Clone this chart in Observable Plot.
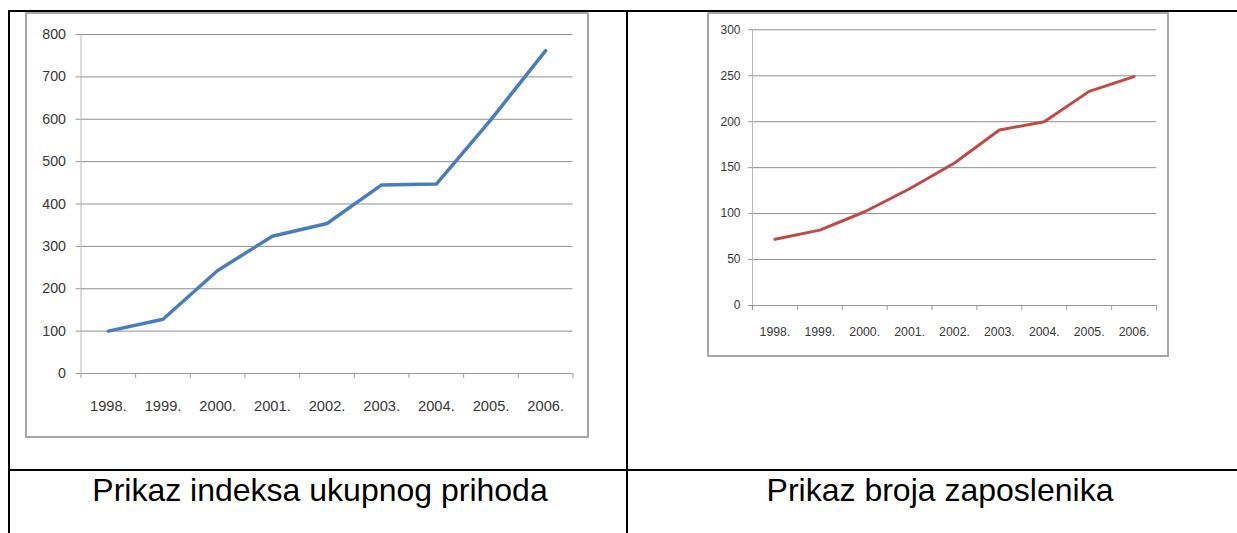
<!DOCTYPE html>
<html>
<head>
<meta charset="utf-8">
<script src="https://cdn.jsdelivr.net/npm/d3@7"></script>
<script src="https://cdn.jsdelivr.net/npm/@observablehq/plot@0.6"></script>
<style>
  html, body { margin: 0; padding: 0; background: #fff; }
  body { width: 1237px; height: 533px; position: relative; overflow: hidden; }
  .ln { position: absolute; background: #000; }
  .frame { position: absolute; box-sizing: border-box; border: 2px solid #a6a6a6; pointer-events: none; }
  .chart { position: absolute; }
  .cap { position: absolute; width: 600px; text-align: center; font-family: "Liberation Sans", Arial, sans-serif;
         font-size: 32px; line-height: 32px; color: #000; white-space: nowrap; }
</style>
</head>
<body>
<div id="c1" class="chart" style="left:25px;top:12px;"></div>
<div class="frame" style="left:25px;top:12px;width:564px;height:426px;"></div>
<div id="c2" class="chart" style="left:707px;top:12px;"></div>
<div class="frame" style="left:707px;top:12px;width:462px;height:345px;"></div>

<div class="ln" style="left:8px;top:10px;width:1229px;height:2px;"></div>
<div class="ln" style="left:8px;top:10px;width:2px;height:523px;"></div>
<div class="ln" style="left:626px;top:10px;width:2px;height:523px;"></div>
<div class="ln" style="left:8px;top:469px;width:1229px;height:2px;"></div>

<div id="cap1" class="cap" style="left:20px;top:474px;"></div>
<div id="cap2" class="cap" style="left:640px;top:474px;"></div>

<script>
// ---- data ----
const years = ["1998.", "1999.", "2000.", "2001.", "2002.", "2003.", "2004.", "2005.", "2006."];
const prihodIndex = [100, 128, 243, 324, 354, 445, 447, 599, 762];
const zaposlenici = [72, 82, 102, 127, 155, 191, 200, 233, 249];
const yTicksLeft = [0, 100, 200, 300, 400, 500, 600, 700, 800];
const yTicksRight = [0, 50, 100, 150, 200, 250, 300];
const captionLeft = "Prikaz indeksa ukupnog prihoda";
const captionRight = "Prikaz broja zaposlenika";

document.getElementById("cap1").textContent = captionLeft;
document.getElementById("cap2").textContent = captionRight;

function makeChart(values, yTicks, opts) {
  const rows = years.map((y, i) => ({i, year: y, v: values[i]}));
  const n = years.length;
  const centers = d3.range(n).map(i => i + 0.5);
  const bounds = d3.range(n + 1);
  return Plot.plot({
    width: opts.width,
    height: opts.height,
    marginLeft: opts.ml,
    marginRight: opts.mr,
    marginTop: opts.mt,
    marginBottom: opts.mb,
    style: {fontFamily: "'Liberation Sans', Arial, sans-serif", fontSize: opts.fs + "px", color: "#383838", background: "transparent"},
    x: {type: "linear", domain: [0, n], axis: null},
    y: {type: "linear", domain: [yTicks[0], yTicks[yTicks.length - 1]], axis: null},
    marks: [
      Plot.gridY(yTicks.slice(1), {stroke: "#8f8f8f", strokeOpacity: 1, strokeWidth: 1}),
      Plot.ruleX([0], {stroke: "#b8b8b8", strokeWidth: 1}),
      Plot.ruleY([yTicks[0]], {stroke: "#9a9a9a", strokeWidth: 1}),
      Plot.axisY(yTicks, {anchor: "left", tickSize: opts.yts, tickPadding: opts.ytp, stroke: "#9a9a9a", fill: "#383838", label: null}),
      Plot.axisX(bounds, {anchor: "bottom", tickSize: 5, tickFormat: () => "", stroke: "#9a9a9a", label: null}),
      Plot.axisX(centers, {anchor: "bottom", tickSize: 0, tickPadding: opts.xtp, fontSize: opts.xfs,
                           tickFormat: t => years[Math.floor(t)], fill: "#383838", label: null}),
      Plot.line(rows, {x: d => d.i + 0.5, y: "v", stroke: opts.color, strokeWidth: opts.sw, strokeLinejoin: "round", strokeLinecap: "round"})
    ]
  });
}

document.getElementById("c1").appendChild(makeChart(prihodIndex, yTicksLeft, {
  width: 564, height: 426, ml: 55.5, mr: 16.5, mt: 22, mb: 65,
  fs: 14.2, xfs: 14.7, yts: 5, ytp: 10, xtp: 27.5, color: "#4a7ebb", sw: 3.5
}));

document.getElementById("c2").appendChild(makeChart(zaposlenici, yTicksRight, {
  width: 462, height: 345, ml: 45, mr: 13, mt: 17.3, mb: 52,
  fs: 12, xfs: 12.3, yts: 4, ytp: 8, xtp: 21.5, color: "#be4b48", sw: 3
}));
</script>
</body>
</html>
